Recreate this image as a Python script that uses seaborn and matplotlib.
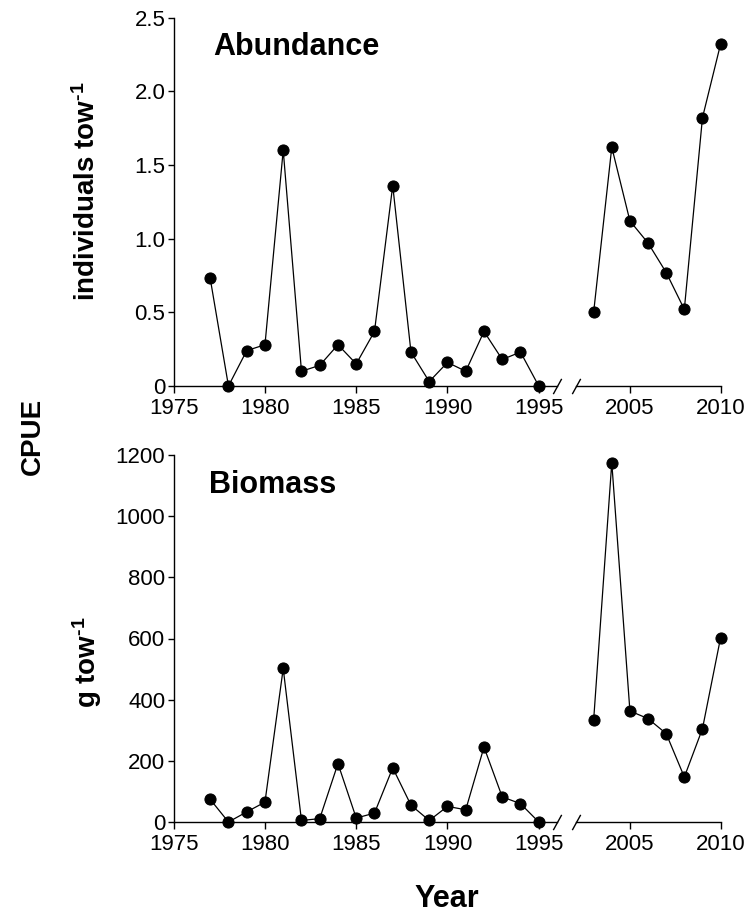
import numpy as np
import pandas as pd
import matplotlib
matplotlib.use("Agg")
import matplotlib.pyplot as plt
import seaborn as sns

# ---------------- data ----------------
years_early = [1977, 1978, 1979, 1980, 1981, 1982, 1983, 1984, 1985, 1986,
               1987, 1988, 1989, 1990, 1991, 1992, 1993, 1994, 1995]
years_late = [2003, 2004, 2005, 2006, 2007, 2008, 2009, 2010]

abund_early = [0.73, 0.00, 0.24, 0.28, 1.60, 0.10, 0.14, 0.28, 0.15, 0.37,
               1.36, 0.23, 0.03, 0.16, 0.10, 0.37, 0.18, 0.23, 0.00]
abund_late = [0.50, 1.62, 1.12, 0.97, 0.77, 0.52, 1.82, 2.32]

biom_early = [74, 0, 33, 65, 502, 5, 11, 191, 13, 29,
              177, 55, 5, 51, 40, 245, 82, 60, 0]
biom_late = [333, 1175, 363, 338, 289, 147, 305, 603]

early_ticks = [1975, 1980, 1985, 1990, 1995]
late_ticks = [2005, 2010]
abund_yticks = [0, 0.5, 1.0, 1.5, 2.0, 2.5]
abund_yticklabels = ["0", "0.5", "1.0", "1.5", "2.0", "2.5"]
biom_yticks = [0, 200, 400, 600, 800, 1000, 1200]
biom_yticklabels = ["0", "200", "400", "600", "800", "1000", "1200"]

# ---------------- style ----------------
sns.set_style("ticks")
plt.rcParams["font.family"] = ["Liberation Sans", "DejaVu Sans"]
plt.rcParams["text.color"] = "black"
plt.rcParams["axes.labelcolor"] = "black"
plt.rcParams["mathtext.fontset"] = "custom"
plt.rcParams["mathtext.rm"] = "Liberation Sans:bold"
plt.rcParams["mathtext.bf"] = "Liberation Sans:bold"
plt.rcParams["mathtext.default"] = "rm"

W, H = 754, 917
fig = plt.figure(figsize=(W / 100, H / 100), dpi=100)

def fx(px):
    return px / W

def fy(py):
    return 1 - py / H

x_left0, x_left1 = 173.7, 557.0
x_right0, x_right1 = 575.5, 720.6

panels = [
    dict(top=17.5, bottom=386.0, early=abund_early, late=abund_late,
         ylim=(0, 2.5), yticks=abund_yticks, yticklabels=abund_yticklabels,
         title="Abundance", title_xy=(213, 55)),
    dict(top=455.0, bottom=822.0, early=biom_early, late=biom_late,
         ylim=(0, 1200), yticks=biom_yticks, yticklabels=biom_yticklabels,
         title="Biomass", title_xy=(209, 493)),
]

tick_fs = 16
line_kw = dict(color="black", marker="o", markersize=8, linewidth=0.9,
               markeredgecolor="black", markerfacecolor="black", clip_on=False)

for p in panels:
    h = fy(p["top"]) - fy(p["bottom"])
    axL = fig.add_axes([fx(x_left0), fy(p["bottom"]), fx(x_left1 - x_left0), h])
    axR = fig.add_axes([fx(x_right0), fy(p["bottom"]), fx(x_right1 - x_right0), h])

    dfe = pd.DataFrame({"year": years_early, "val": p["early"]})
    dfl = pd.DataFrame({"year": years_late, "val": p["late"]})
    sns.lineplot(data=dfe, x="year", y="val", ax=axL, **line_kw)
    sns.lineplot(data=dfl, x="year", y="val", ax=axR, **line_kw)

    axL.set_xlim(1975, 1996.0)
    axR.set_xlim(2002.0, 2010)
    for ax in (axL, axR):
        ax.set_ylim(*p["ylim"])
        ax.set_xlabel("")
        ax.set_ylabel("")
        ax.patch.set_visible(False)
        for s in ("top", "right"):
            ax.spines[s].set_visible(False)
        ax.spines["bottom"].set_linewidth(1.0)
        ax.spines["left"].set_linewidth(1.0)
        ax.spines["bottom"].set_color("black")
        ax.spines["left"].set_color("black")
        ax.tick_params(axis="x", direction="out", length=5, width=1.0,
                       labelsize=tick_fs, pad=4, colors="black")
        ax.tick_params(axis="y", direction="out", length=4.5, width=1.0,
                       labelsize=tick_fs, pad=1.5, colors="black")

    axL.set_xticks(early_ticks)
    axL.set_xticklabels([str(t) for t in early_ticks])
    axR.set_xticks(late_ticks)
    axR.set_xticklabels([str(t) for t in late_ticks])

    axL.set_yticks(p["yticks"])
    axL.set_yticklabels(p["yticklabels"])
    axR.spines["left"].set_visible(False)
    axR.set_yticks([])

    # axis-break slashes
    slash = [(-0.55, -1.0), (0.55, 1.0)]
    axL.plot([1], [0], marker=slash, markersize=11, color="black",
             markerfacecolor="none", markeredgewidth=1.0,
             transform=axL.transAxes, clip_on=False)
    axR.plot([0], [0], marker=slash, markersize=11, color="black",
             markerfacecolor="none", markeredgewidth=1.0,
             transform=axR.transAxes, clip_on=False)

    tx, ty = p["title_xy"]
    fig.text(fx(tx), fy(ty), p["title"], fontsize=22, fontweight="bold",
             ha="left", va="baseline")

fig.text(fx(87), fy(191), r"individuals tow$^{\text{-}1}$", fontsize=20,
         fontweight="bold", rotation=90, ha="center", va="center")
fig.text(fx(87), fy(662), r"g tow$^{\text{-}1}$", fontsize=20,
         fontweight="bold", rotation=90, ha="center", va="center")
fig.text(fx(33), fy(436), "CPUE", fontsize=20, fontweight="bold",
         rotation=90, ha="center", va="center")
fig.text(fx(447), fy(899), "Year", fontsize=22, fontweight="bold",
         ha="center", va="center")

fig.savefig("out.png", dpi=100)
